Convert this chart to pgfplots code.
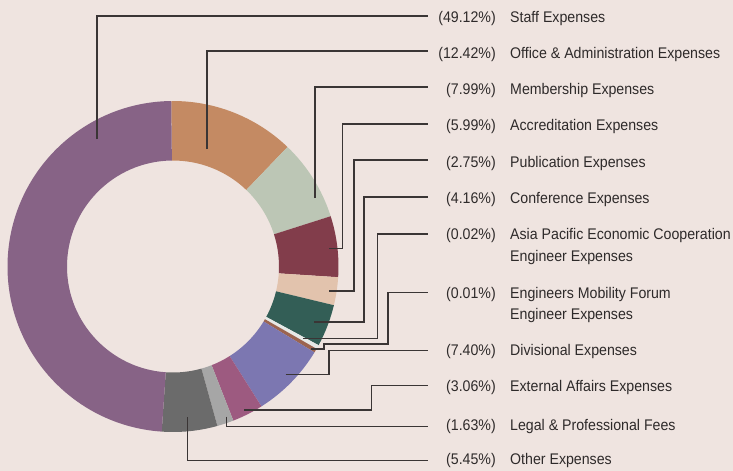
\documentclass[border=0pt]{standalone}
\usepackage{pgfplots}
\pgfplotsset{compat=1.18}
\usepackage{pgfplotstable}
\usepackage{fontspec}
\setmainfont{Liberation Sans}[FakeStretch=0.92]
\definecolor{bg}{HTML}{EFE4E0}
\definecolor{cStaff}{HTML}{876386}
\definecolor{cOffice}{HTML}{C48A63}
\definecolor{cMember}{HTML}{BCC6B5}
\definecolor{cAccred}{HTML}{823D4B}
\definecolor{cPub}{HTML}{E2C3AD}
\definecolor{cConf}{HTML}{335E56}
\definecolor{cAPEC}{HTML}{E6E9E7}
\definecolor{cEMF}{HTML}{9B6450}
\definecolor{cDiv}{HTML}{7C77B1}
\definecolor{cExt}{HTML}{9D5A80}
\definecolor{cLegal}{HTML}{A6A6A6}
\definecolor{cOther}{HTML}{6B6B6B}
\definecolor{lineC}{HTML}{3A3535}
\definecolor{txt}{HTML}{2E2A2A}
\tikzset{ld/.style={lineC, line width=1.1bp, solid, mark=none}}

% slices clockwise from the top
\pgfplotstableread[col sep=comma]{
name,value,color
Office,12.42,cOffice
Membership,7.99,cMember
Accreditation,5.99,cAccred
Publication,2.75,cPub
Conference,4.16,cConf
APEC,0.02,cAPEC
EMF,0.01,cEMF
Divisional,7.40,cDiv
External,3.06,cExt
Legal,1.63,cLegal
Other,5.45,cOther
Staff,49.12,cStaff
}\slices

\begin{document}
\begin{tikzpicture}
\fill[bg] (0,0) rectangle (733bp,471bp);
\begin{axis}[
  at={(0,0)}, anchor=south west,
  x=1bp, y=1bp, xmin=0, xmax=733, ymin=0, ymax=471,
  y dir=reverse, hide axis, clip=false,
]
\pgfplotsextra{%
  \gdef\tot{0}%
  \foreach \i in {0,...,11}{%
    \pgfplotstablegetelem{\i}{value}\of\slices
    \pgfmathsetmacro\d{max(\pgfplotsretval,0.4)}%
    \pgfmathsetmacro\t{\tot+\d}%
    \xdef\tot{\t}%
  }%
  \gdef\ang{90.6}%
  \foreach \i in {0,...,11}{%
    \pgfplotstablegetelem{\i}{value}\of\slices
    \pgfmathsetmacro\d{max(\pgfplotsretval,0.4)}%
    \pgfplotstablegetelem{\i}{color}\of\slices
    \let\col\pgfplotsretval
    \pgfmathsetmacro\aone{\ang}%
    \pgfmathsetmacro\atwo{\ang-\d/\tot*360}%
    \pgfmathsetmacro\xa{173+165.5*cos(\aone)}%
    \pgfmathsetmacro\ya{266.5-165.5*sin(\aone)}%
    \pgfmathsetmacro\xb{173+106*cos(\atwo)}%
    \pgfmathsetmacro\yb{266.5-106*sin(\atwo)}%
    \fill[fill=\col] (axis cs:\xa,\ya) arc[start angle=\aone, end angle=\atwo, radius=165.5bp]
       -- (axis cs:\xb,\yb) arc[start angle=\atwo, end angle=\aone, radius=106bp] -- cycle;
    \xdef\ang{\atwo}%
  }%
}
% leader lines
\addplot[ld] coordinates {(97,139) (97,16) (428,16)};
\addplot[ld] coordinates {(207,149) (207,51) (428,51)};
\addplot[ld] coordinates {(315,198) (315,87) (428,87)};
\addplot[ld] coordinates {(329,248.5) (342.3,248.5) (342.3,124) (428,124)};
\addplot[ld] coordinates {(329,291) (354,291) (354,160) (428,160)};
\addplot[ld] coordinates {(314,322) (364,322) (364,197) (428,197)};
\addplot[ld] coordinates {(303,338.3) (377.5,338.3) (377.5,234) (428,234)};
\addplot[ld] coordinates {(311,349) (324,349) (324,344) (388,344) (388,292.5) (428,292.5)};
\addplot[ld] coordinates {(285.5,374.8) (329,374.8) (329,350.5) (428,350.5)};
\addplot[ld] coordinates {(244,410) (371.8,410) (371.8,385.5) (428,385.5)};
\addplot[ld] coordinates {(226.7,416.7) (226.7,426.7) (428,426.7)};
\addplot[ld] coordinates {(187.7,417) (187.7,460.7) (428,460.7)};

\begin{scope}[every node/.style={inner sep=0pt, text=txt, font=\fontsize{15.4bp}{22bp}\selectfont}]
\node[anchor=base east] at (axis cs:496,22.5) {(49.12\%)};
\node[anchor=base west] at (axis cs:510,22.5) {Staff Expenses};
\node[anchor=base east] at (axis cs:496,58.5) {(12.42\%)};
\node[anchor=base west] at (axis cs:510,58.5) {Office \& Administration Expenses};
\node[anchor=base east] at (axis cs:496,94.5) {(7.99\%)};
\node[anchor=base west] at (axis cs:510,94.5) {Membership Expenses};
\node[anchor=base east] at (axis cs:496,130.8) {(5.99\%)};
\node[anchor=base west] at (axis cs:510,130.8) {Accreditation Expenses};
\node[anchor=base east] at (axis cs:496,167.3) {(2.75\%)};
\node[anchor=base west] at (axis cs:510,167.3) {Publication Expenses};
\node[anchor=base east] at (axis cs:496,203) {(4.16\%)};
\node[anchor=base west] at (axis cs:510,203) {Conference Expenses};
\node[anchor=base east] at (axis cs:496,239) {(0.02\%)};
\node[anchor=base west] at (axis cs:510,239) {Asia Pacific Economic Cooperation};
\node[anchor=base west] at (axis cs:510,261.5) {Engineer Expenses};
\node[anchor=base east] at (axis cs:496,298.3) {(0.01\%)};
\node[anchor=base west] at (axis cs:510,298.3) {Engineers Mobility Forum};
\node[anchor=base west] at (axis cs:510,319.5) {Engineer Expenses};
\node[anchor=base east] at (axis cs:496,355) {(7.40\%)};
\node[anchor=base west] at (axis cs:510,355) {Divisional Expenses};
\node[anchor=base east] at (axis cs:496,391.5) {(3.06\%)};
\node[anchor=base west] at (axis cs:510,391.5) {External Affairs Expenses};
\node[anchor=base east] at (axis cs:496,430) {(1.63\%)};
\node[anchor=base west] at (axis cs:510,430) {Legal \& Professional Fees};
\node[anchor=base east] at (axis cs:496,464.5) {(5.45\%)};
\node[anchor=base west] at (axis cs:510,464.5) {Other Expenses};
\end{scope}
\end{axis}
\pgfresetboundingbox
\useasboundingbox (0,0) rectangle (733bp,471bp);
\end{tikzpicture}
\end{document}
